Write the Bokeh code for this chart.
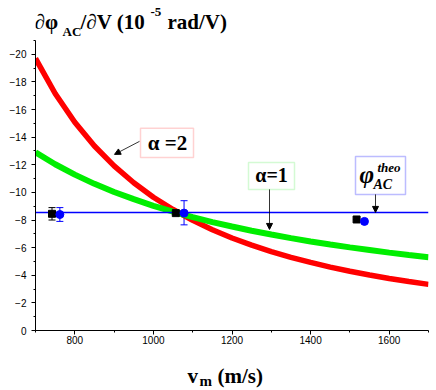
from bokeh.plotting import figure
from bokeh.models import (Range1d, SingleIntervalTicker, Label, Arrow, NormalHead,
                          BoxAnnotation, Whisker, TeeHead, ColumnDataSource)
from bokeh.layouts import column
from bokeh.embed import file_html
from bokeh.resources import INLINE

# ---- data ----
v = [700, 750, 800, 850, 900, 950, 1000, 1050, 1100, 1150, 1200, 1250, 1300,
     1350, 1400, 1450, 1500, 1550, 1600, 1650, 1700]
alpha2 = [-19.70, -17.16, -15.08, -13.36, -11.92, -10.70, -9.65, -8.76, -7.98,
          -7.30, -6.70, -6.18, -5.71, -5.30, -4.93, -4.59, -4.29, -4.02, -3.77,
          -3.55, -3.34]
alpha1 = [-12.90, -12.04, -11.29, -10.62, -10.03, -9.51, -9.03, -8.60, -8.21,
          -7.85, -7.53, -7.22, -6.95, -6.69, -6.45, -6.23, -6.02, -5.83, -5.64,
          -5.47, -5.31]
phi_theo = -8.55

sq_x = [742, 1057, 1517]
sq_y = [-8.45, -8.50, -8.04]
sq_lo = [-8.00, -8.42, -8.04]
sq_hi = [-8.90, -8.58, -8.04]

ci_x = [762, 1078, 1537]
ci_y = [-8.40, -8.50, -7.90]
ci_lo = [-7.90, -7.65, -7.90]
ci_hi = [-8.90, -9.40, -7.90]

x_ticks_interval = 200
y_ticks_interval = 2

W = 436
FL, FR = 35, 428   # frame left / right in page pixels

def strip(h):
    f = figure(width=W, height=h, output_backend="svg", toolbar_location=None,
               title=None,
               x_range=Range1d(FL, FR), y_range=Range1d(h, 0),
               x_axis_type=None, y_axis_type=None,
               min_border_left=FL, min_border_right=W - FR,
               min_border_top=0, min_border_bottom=0)
    f.outline_line_color = None
    f.grid.visible = False
    return f

def base_fix(size):
    # empirical shift so that the visible baseline lands where wanted
    return 0.33 * size

def tlab(f, text, x, y, size, style="bold", align="left", font="Liberation Serif"):
    f.add_layout(Label(x=x, y=y - base_fix(size), text=text, text_font=font,
                       text_font_size=f"{size}px", text_font_style=style,
                       text_align=align, text_baseline="alphabetic",
                       text_color="black"))

# ---- title strip (page pixels) ----
pt = strip(40)
tlab(pt, "∂φ", 34, 28, 21)
tlab(pt, "AC", 62, 35, 13)
tlab(pt, "/∂V (10", 80, 28, 21)
tlab(pt, "-5", 150, 16, 13)
tlab(pt, "rad/V)", 167, 28, 21)

# ---- main figure ----
p = figure(width=W, height=312, output_backend="svg", toolbar_location=None,
           title=None,
           x_range=Range1d(700, 1700), y_range=Range1d(0, -21),
           min_border_left=FL, min_border_right=W - FR, min_border_top=0,
           min_border_bottom=22)
p.outline_line_color = None
p.grid.visible = False

p.xaxis.ticker = SingleIntervalTicker(interval=x_ticks_interval, num_minor_ticks=2)
p.yaxis.ticker = SingleIntervalTicker(interval=y_ticks_interval, num_minor_ticks=2)
for ax in (p.xaxis, p.yaxis):
    ax.axis_line_color = "black"
    ax.major_tick_line_color = "black"
    ax.minor_tick_line_color = "black"
    ax.major_tick_out = 4
    ax.major_tick_in = 0
    ax.minor_tick_out = 2
    ax.minor_tick_in = 0
    ax.major_label_text_font = "Liberation Sans"
    ax.major_label_text_font_size = "10px"
    ax.major_label_text_color = "black"
p.xaxis.major_label_standoff = 1
p.yaxis.major_label_standoff = 5

# helpers mapping reference pixels to data coords for annotation placement
def X(px):
    return 700 + (px - FL) * 1000.0 / (FR - FL)

def Y(py):
    return -(330 - py) / 13.8

# curves
p.line(v, alpha2, line_color="#ff0000", line_width=5.5)
p.line(v, alpha1, line_color="#00ee00", line_width=6)
p.line([700, 1700], [phi_theo, phi_theo], line_color="#0000ff", line_width=1.5)

# error bars
src_sq = ColumnDataSource(dict(x=sq_x, y=sq_y, lo=sq_lo, hi=sq_hi))
src_ci = ColumnDataSource(dict(x=ci_x, y=ci_y, lo=ci_lo, hi=ci_hi))
p.add_layout(Whisker(source=src_sq, base="x", lower="lo", upper="hi",
                     line_color="black", line_width=1,
                     upper_head=TeeHead(size=7, line_color="black"),
                     lower_head=TeeHead(size=7, line_color="black")))
p.add_layout(Whisker(source=src_ci, base="x", lower="lo", upper="hi",
                     line_color="#0000ff", line_width=1,
                     upper_head=TeeHead(size=7, line_color="#0000ff"),
                     lower_head=TeeHead(size=7, line_color="#0000ff")))
p.scatter("x", "y", source=src_sq, marker="square", size=7, color="black")
p.scatter("x", "y", source=src_ci, marker="circle", size=8, color="#0000ff")

# annotation boxes
p.add_layout(BoxAnnotation(left=X(140), right=X(193), top=Y(128), bottom=Y(157),
                           fill_color="white", fill_alpha=1,
                           line_color="#ff6a6a", line_width=1.5))
p.add_layout(BoxAnnotation(left=X(248), right=X(294), top=Y(162), bottom=Y(189),
                           fill_color="white", fill_alpha=1,
                           line_color="#70f070", line_width=1.5))
p.add_layout(BoxAnnotation(left=X(355), right=X(405), top=Y(156), bottom=Y(194),
                           fill_color="white", fill_alpha=1,
                           line_color="#2020ff", line_width=1.5))

def lab(text, px, py, size, style="bold", align="left", font="Liberation Serif"):
    p.add_layout(Label(x=X(px), y=Y(py - base_fix(size)), text=text, text_font=font,
                       text_font_size=f"{size}px", text_font_style=style,
                       text_align=align, text_baseline="alphabetic",
                       text_color="black"))

lab("α =2", 167, 150, 21, align="center")
lab("α=1", 271, 181, 20, align="center")
lab("φ", 359, 182, 25, style="bold italic")
lab("theo", 377, 171, 13, style="bold italic")
lab("AC", 373, 189, 14, style="bold italic")

# arrows
def arrow(x0, y0, x1, y1):
    p.add_layout(Arrow(x_start=X(x0), y_start=Y(y0), x_end=X(x1), y_end=Y(y1),
                       line_color="black", line_width=0.8,
                       end=NormalHead(size=6, fill_color="black", line_color="black")))

arrow(139, 141, 114, 154)
arrow(269, 189, 269, 229)
arrow(375, 194, 375, 212)

# ---- x label strip (page pixels, strip starts at page y 352) ----
pb = strip(36)
tlab(pb, "v", 187, 30, 21)
tlab(pb, "m", 199, 33, 15)
tlab(pb, "(m/s)", 217, 30, 21)

layout = column(pt, p, pb, spacing=0)
open("out.html", "w").write(file_html(layout, INLINE))
